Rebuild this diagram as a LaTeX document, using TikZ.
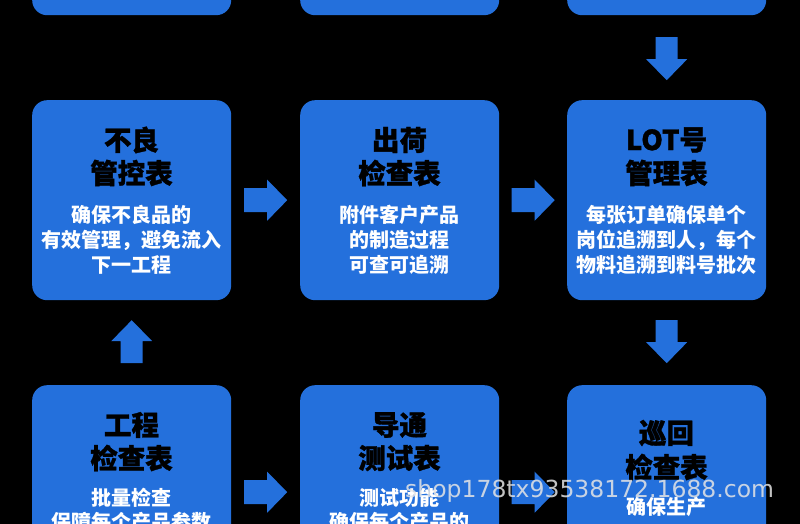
\documentclass[tikz,border=0pt]{standalone}
\usepackage{fontspec}
\setmainfont{Noto Sans CJK SC}
\newfontfamily\ttlfont{Noto Sans CJK SC}[BoldFeatures={FakeBold=1.2}]
\newfontfamily\wmfont{DejaVu Sans}
\usetikzlibrary{calc}
\definecolor{boxblue}{RGB}{36,112,220}
\tikzset{
  card/.style={fill=boxblue, rounded corners=15pt, minimum width=199pt, minimum height=200pt, inner sep=0pt, anchor=north west},
  ttl/.style={font=\ttlfont\fontsize{27.5}{30}\selectfont\bfseries, text=black, inner sep=0pt},
  dsc/.style={font=\fontsize{20}{22}\selectfont\bfseries, text=white, inner sep=0pt},
  rarr/.pic={\fill[boxblue] (-21.5,-12) -- (1.5,-12) -- (1.5,-20.5) -- (21.5,0) -- (1.5,20.5) -- (1.5,12) -- (-21.5,12) -- cycle;},
  darr/.pic={\fill[boxblue] (-11,-21.5) -- (-11,0.5) -- (-20.5,0.5) -- (0,21.5) -- (20.5,0.5) -- (11,0.5) -- (11,-21.5) -- cycle;},
  uarr/.pic={\fill[boxblue] (-11,21.5) -- (-11,-0.5) -- (-20.5,-0.5) -- (0,-21.5) -- (20.5,-0.5) -- (11,-0.5) -- (11,21.5) -- cycle;}
}
\begin{document}
\begin{tikzpicture}[x=1pt,y=-1pt]
\useasboundingbox (0,0) rectangle (800,524);
\fill[black] (0,0) rectangle (800,524);
\clip (0,0) rectangle (800,524);
% boxes
\node[card] (t1) at (32,-185) {};
\node[card] (t2) at (300,-185) {};
\node[card] (t3) at (567,-185) {};
\node[card] (m1) at (32,100) {};
\node[card] (m2) at (300,100) {};
\node[card] (m3) at (567,100) {};
\node[card] (b1) at (32,385) {};
\node[card] (b2) at (300,385) {};
\node[card] (b3) at (567,385) {};
% middle row texts
\node[ttl] (m1t1) at (131.5,140) {不良};
\node[ttl] (m1t2) at (131.5,173) {管控表};
\node[dsc] (m1d1) at (131.5,215) {确保不良品的};
\node[dsc] (m1d2) at (131.5,240) {有效管理，避免流入};
\node[dsc] (m1d3) at (131.5,265) {下一工程};
\node[ttl] (m2t1) at (399.5,140) {出荷};
\node[ttl] (m2t2) at (399.5,173) {检查表};
\node[dsc] (m2d1) at (399.5,215) {附件客户产品};
\node[dsc] (m2d2) at (399.5,240) {的制造过程};
\node[dsc] (m2d3) at (399.5,265) {可查可追溯};
\node[ttl] (m3t1) at (666.5,140) {LOT号};
\node[ttl] (m3t2) at (666.5,173) {管理表};
\node[dsc] (m3d1) at (666.5,215) {每张订单确保单个};
\node[dsc] (m3d2) at (666.5,240) {岗位追溯到人，每个};
\node[dsc] (m3d3) at (666.5,265) {物料追溯到料号批次};
% bottom row texts
\node[ttl] (b1t1) at (131.5,425) {工程};
\node[ttl] (b1t2) at (131.5,458) {检查表};
\node[dsc] (b1d1) at (131.5,498) {批量检查};
\node[dsc] (b1d2) at (131.5,522) {保障每个产品参数};
\node[ttl] (b2t1) at (399.5,425) {导通};
\node[ttl] (b2t2) at (399.5,458) {测试表};
\node[dsc] (b2d1) at (399.5,498) {测试功能};
\node[dsc] (b2d2) at (399.5,522) {确保每个产品的};
\node[ttl] (b3t1) at (666.5,433) {巡回};
\node[ttl] (b3t2) at (666.5,467) {检查表};
\node[dsc] (b3d1) at (666.5,507) {确保生产};
% block arrows
\path ($(m1.east)!0.5!(m2.west)$) pic{rarr};
\path ($(m2.east)!0.5!(m3.west)$) pic{rarr};
\path ($(t3.south)!0.5!(m3.north)$) ++(0,1) pic{darr};
\path ($(m3.south)!0.5!(b3.north)$) ++(0,-1) pic{darr};
\path ($(b1.north)!0.5!(m1.south)$) ++(0,-1) pic{uarr};
\path ($(b1.east)!0.5!(b2.west)$) ++(0,7) pic{rarr};
\path ($(b2.east)!0.5!(b3.west)$) ++(0,7) pic{rarr};
% watermark
\node[font=\wmfont\fontsize{23.5}{24}\selectfont, text=gray!20, opacity=0.85, anchor=west, inner sep=0pt] (wm) at (405,491) {shop178tx93538172.1688.com};
\end{tikzpicture}
\end{document}
